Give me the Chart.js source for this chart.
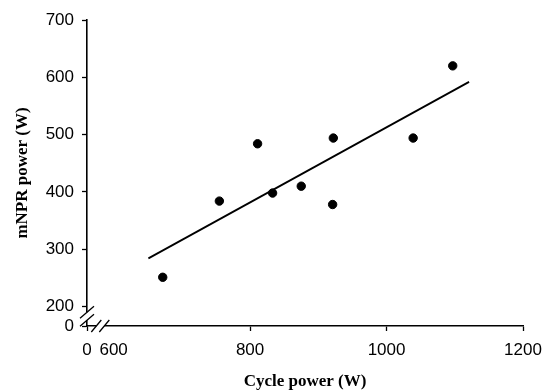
<!DOCTYPE html>
<html>
<head>
<meta charset="utf-8">
<script src="https://cdn.jsdelivr.net/npm/chart.js@4"></script>
<style>
  html, body { margin: 0; padding: 0; background: #fff; }
  #wrap { width: 544px; height: 390px; }
</style>
</head>
<body>
<div id="wrap"><canvas id="chart1"></canvas></div>
<script>
// data
const cyclePower = [672, 755, 811, 833, 875, 922, 921, 1039, 1097];
const mnprPower = [251, 384, 484, 398, 410, 494, 378, 494, 620];

// regression line end points
const trendX = [651, 1121];
const trendY = [284, 592];

// axes are broken: the lowest value of each scale stands for "0"
const xMin = 561, xMax = 1200;
const yMin = 166, yMax = 700;
const xTicks = [xMin, 600, 800, 1000, 1200];
const yTicks = [yMin, 200, 300, 400, 500, 600, 700];

const tickFont = { family: 'Liberation Sans, Arial, sans-serif', size: 17 };
const titleFont = { family: 'Liberation Serif, Times New Roman, serif', size: 17, weight: 'bold', lineHeight: 1 };

const axisBreaks = {
    id: 'axisBreaks',
    afterDraw(chart) {
        const ctx = chart.ctx;
        const xs = chart.scales.x, ys = chart.scales.y;
        const ax = xs.left, ay = ys.bottom;
        const yb = (ys.getPixelForValue(yMin) + ys.getPixelForValue(200)) / 2;
        const xb = (xs.getPixelForValue(xMin) + xs.getPixelForValue(600)) / 2;
        ctx.save();
        ctx.fillStyle = '#fff';
        ctx.fillRect(ax - 2, yb - 4, 4, 8);
        ctx.fillRect(xb - 4, ay - 2, 8, 4);
        ctx.strokeStyle = '#000';
        ctx.lineWidth = 1.3;
        ctx.beginPath();
        [-4, 4].forEach(d => {
            ctx.moveTo(ax - 7, yb + d + 6);
            ctx.lineTo(ax + 7, yb + d - 6);
            ctx.moveTo(xb + d - 5, ay + 6);
            ctx.lineTo(xb + d + 5, ay - 6);
        });
        ctx.stroke();
        ctx.restore();
    }
};

let myChart1 = document.getElementById('chart1').getContext('2d');
let scatterChart = new Chart(myChart1, {
    type: 'scatter',
    data: {
        datasets: [{
            data: cyclePower.map((x, i) => ({ x: x, y: mnprPower[i] })),
            backgroundColor: '#000',
            borderColor: '#000',
            pointRadius: 4.2,
            pointHoverRadius: 4.2
        }, {
            type: 'line',
            data: trendX.map((x, i) => ({ x: x, y: trendY[i] })),
            borderColor: '#000',
            borderWidth: 1.8,
            pointRadius: 0,
            fill: false
        }]
    },
    options: {
        responsive: true,
        maintainAspectRatio: false,
        animation: false,
        layout: { padding: { top: 20, right: 21, left: 0, bottom: 0 } },
        plugins: {
            legend: { display: false },
            tooltip: { enabled: false }
        },
        scales: {
            x: {
                type: 'linear',
                min: xMin,
                max: xMax,
                afterBuildTicks: s => { s.ticks = xTicks.map(v => ({ value: v })); },
                afterFit: s => { s.height = 64; s.paddingLeft = 0; s.paddingRight = 0; },
                border: { color: '#000', width: 1.6 },
                grid: {
                    drawOnChartArea: false,
                    tickLength: 5,
                    tickWidth: 1.3,
                    tickColor: c => (c.tick && c.tick.value === 600) ? 'rgba(0,0,0,0)' : '#000'
                },
                ticks: {
                    color: '#000',
                    font: tickFont,
                    padding: 9,
                    maxRotation: 0,
                    autoSkip: false,
                    callback: v => v === xMin ? '0' : v
                },
                title: {
                    display: true,
                    text: 'Cycle power (W)',
                    color: '#000',
                    font: titleFont,
                    padding: { top: 0, bottom: 0 }
                }
            },
            y: {
                type: 'linear',
                min: yMin,
                max: yMax,
                afterBuildTicks: s => { s.ticks = yTicks.map(v => ({ value: v })); },
                afterFit: s => { s.width = 87; s.paddingTop = 0; s.paddingBottom = 0; },
                border: { color: '#000', width: 1.6 },
                grid: {
                    drawOnChartArea: false,
                    tickLength: 5,
                    tickWidth: 1.3,
                    tickColor: '#000'
                },
                ticks: {
                    color: '#000',
                    font: tickFont,
                    padding: 8,
                    autoSkip: false,
                    callback: v => v === yMin ? '0' : v
                },
                title: {
                    display: true,
                    text: 'mNPR power (W)',
                    color: '#000',
                    font: titleFont,
                    padding: { top: 14, bottom: 0 }
                }
            }
        }
    },
    plugins: [axisBreaks]
});
</script>
</body>
</html>
